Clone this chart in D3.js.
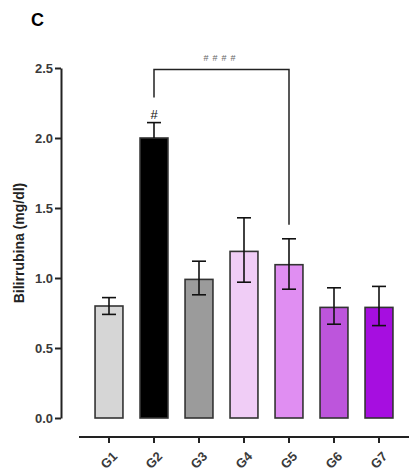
<!DOCTYPE html>
<html>
<head>
<script src="https://cdn.jsdelivr.net/npm/d3@7"></script>
<style>
	body { margin: 0; background: #fff; }
	text { font-family: "Liberation Sans", Arial, sans-serif; }
</style>
</head>
<body>
<div id="chart"></div>
<script>
	// data
	var groups = ["G1", "G2", "G3", "G4", "G5", "G6", "G7"];
	var means = [0.80, 2.00, 0.99, 1.19, 1.095, 0.79, 0.79];
	var errLow = [0.74, 2.00, 0.88, 0.97, 0.92, 0.67, 0.66];
	var errHigh = [0.86, 2.11, 1.12, 1.43, 1.28, 0.93, 0.94];
	var fills = ["#d6d6d6", "#000000", "#9b9b9b", "#f0cdf6", "#e08ef2", "#bd55dc", "#a60ee0"];
	var yTicks = [0, 0.5, 1.0, 1.5, 2.0, 2.5];

	var width = 414, height = 472;
	var svg = d3.select("#chart").append("svg")
		.attr("width", width)
		.attr("height", height);

	var y = d3.scaleLinear().domain([0, 2.5]).range([418, 68]);
	var x = d3.scaleBand().domain(groups).range([86.5, 401.5]).paddingInner(0.38).paddingOuter(0.19);

	// panel letter
	svg.append("text")
		.attr("x", 31).attr("y", 26)
		.attr("font-size", 18).attr("font-weight", "bold")
		.text("C");

	// y axis
	var yAxis = svg.append("g")
		.attr("transform", "translate(61,0)")
		.call(d3.axisLeft(y).tickValues(yTicks).tickFormat(d3.format(".1f")).tickSize(6).tickSizeOuter(0));
	yAxis.select(".domain").attr("stroke", "#222").attr("stroke-width", 2);
	yAxis.selectAll(".tick line").attr("stroke", "#222").attr("stroke-width", 2);
	yAxis.selectAll(".tick text")
		.attr("font-size", 13).attr("font-weight", "bold").attr("fill", "#3a3a3a")
		.attr("x", -8);

	svg.append("text")
		.attr("transform", "translate(24,243) rotate(-90)")
		.attr("text-anchor", "middle")
		.attr("font-size", 14).attr("font-weight", "bold").attr("fill", "#222")
		.text("Bilirrubina (mg/dl)");

	// x axis (offset below the plot)
	var xAxis = svg.append("g")
		.attr("transform", "translate(0,437)")
		.call(d3.axisBottom(x).tickSize(6).tickSizeOuter(0));
	xAxis.select(".domain").attr("d", "M79,0H409").attr("stroke", "#222").attr("stroke-width", 2);
	xAxis.selectAll(".tick line").attr("stroke", "#222").attr("stroke-width", 2);
	xAxis.selectAll(".tick text")
		.attr("font-size", 13).attr("font-weight", "bold").attr("fill", "#3a3a3a")
		.attr("text-anchor", "end")
		.attr("dy", "0.35em")
		.attr("transform", "translate(6,17) rotate(-45)")
		.attr("x", 0).attr("y", 0);

	// bars
	svg.selectAll("rect.bar")
		.data(groups)
		.enter().append("rect")
		.attr("class", "bar")
		.attr("x", function(d) { return x(d); })
		.attr("width", x.bandwidth())
		.attr("y", function(d, i) { return y(means[i]); })
		.attr("height", function(d, i) { return y(0) - y(means[i]); })
		.attr("fill", function(d, i) { return fills[i]; })
		.attr("stroke", "#333")
		.attr("stroke-width", 1.6);

	// error bars
	var cap = 7;
	function ix(d) { return groups.indexOf(d); }
	function cx(d) { return x(d) + x.bandwidth() / 2; }
	var err = svg.selectAll("g.err")
		.data(groups)
		.enter().append("g")
		.attr("class", "err")
		.attr("stroke", "#111")
		.attr("stroke-width", 1.6);
	err.append("line")
		.attr("x1", cx).attr("x2", cx)
		.attr("y1", function(d) { return y(errLow[ix(d)]); })
		.attr("y2", function(d) { return y(errHigh[ix(d)]); });
	err.append("line")
		.attr("x1", function(d) { return cx(d) - cap; })
		.attr("x2", function(d) { return cx(d) + cap; })
		.attr("y1", function(d) { return y(errHigh[ix(d)]); })
		.attr("y2", function(d) { return y(errHigh[ix(d)]); });
	err.filter(function(d) { return errLow[ix(d)] < means[ix(d)]; })
		.append("line")
		.attr("x1", function(d) { return cx(d) - cap; })
		.attr("x2", function(d) { return cx(d) + cap; })
		.attr("y1", function(d) { return y(errLow[ix(d)]); })
		.attr("y2", function(d) { return y(errLow[ix(d)]); });

	// significance marks
	var cx2 = cx("G2"), cx5 = cx("G5");
	svg.append("text")
		.attr("x", cx2).attr("y", y(2.11) - 4)
		.attr("text-anchor", "middle")
		.attr("font-size", 13).attr("fill", "#111")
		.text("#");

	svg.append("path")
		.attr("d", "M" + cx2 + "," + y(2.29) + "V" + y(2.49) + "H" + cx5 + "V" + y(1.38))
		.attr("fill", "none")
		.attr("stroke", "#222")
		.attr("stroke-width", 1.5);

	svg.append("text")
		.attr("x", (cx2 + cx5) / 2).attr("y", y(2.49) - 8)
		.attr("text-anchor", "middle")
		.attr("font-size", 9).attr("fill", "#666").attr("letter-spacing", 4)
		.text("####");
</script>
</body>
</html>
